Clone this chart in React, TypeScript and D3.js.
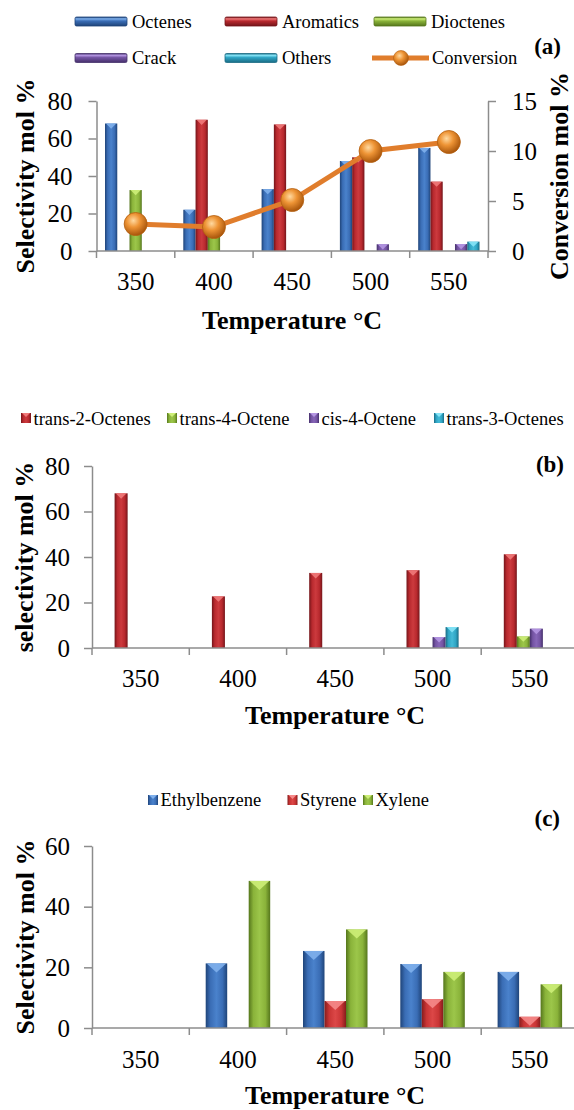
import React, { useEffect, useRef } from "react";
import * as d3 from "d3";

const temps = ["350", "400", "450", "500", "550"];

// panel (a) - selectivity (left axis) and conversion (right axis)
const seriesA = ["Octenes", "Aromatics", "Dioctenes", "Crack", "Others"];
const octenes = [68, 22, 33, 48, 55];
const aromatics = [0, 70, 67.5, 50, 37];
const dioctenes = [32.5, 9, 0, 0, 0];
const crack = [0, 0, 0, 3.6, 3.7];
const others = [0, 0, 0, 0, 5];
const conversion = [2.7, 2.4, 5.1, 10.0, 10.9];
const ticksALeft = [0, 20, 40, 60, 80];
const ticksARight = [0, 5, 10, 15];

// panel (b) - octene isomers
const seriesB = ["trans-2-Octenes", "trans-4-Octene", "cis-4-Octene", "trans-3-Octenes"];
const trans2 = [68, 22.7, 33, 34.2, 41.2];
const trans4 = [0, 0, 0, 0, 5.1];
const cis4 = [0, 0, 0, 4.8, 8.5];
const trans3 = [0, 0, 0, 9.2, 0];
const ticksB = [0, 20, 40, 60, 80];

// panel (c) - aromatics
const seriesC = ["Ethylbenzene", "Styrene", "Xylene"];
const ethylbenzene = [0, 21.3, 25.4, 21.1, 18.5];
const styrene = [0, 0, 8.9, 9.5, 3.7];
const xylene = [0, 48.5, 32.5, 18.5, 14.4];
const ticksC = [0, 20, 40, 60];

const palette: Record<string, { base: string; light: string; dark: string; hi: string }> = {
  blue: { base: "#3a6db5", light: "#4a82cc", dark: "#1f4479", hi: "#7fb0ec" },
  red: { base: "#b8292e", light: "#cc3a3e", dark: "#74151a", hi: "#f07a7a" },
  green: { base: "#8ab33a", light: "#9cc64a", dark: "#55761c", hi: "#cdee78" },
  purple: { base: "#7454a3", light: "#8766b8", dark: "#45306b", hi: "#b496e2" },
  cyan: { base: "#2fa5c4", light: "#44bbd8", dark: "#1a6b84", hi: "#86e4f7" },
  red2: { base: "#c93535", light: "#dc4747", dark: "#861c1c", hi: "#f58a8a" },
};

const serif = "Liberation Serif, Times New Roman, serif";
const axisGray = "#8c8c8c";

export default function App() {
  const svgRef = useRef<SVGSVGElement>(null);

  useEffect(() => {
    const svg = d3.select(svgRef.current);
    svg.selectAll("*").remove();
    const defs = svg.append("defs");

    Object.entries(palette).forEach(([k, c]) => {
      const h = defs.append("linearGradient").attr("id", `bar-${k}`)
        .attr("x1", 0).attr("x2", 1).attr("y1", 0).attr("y2", 0);
      [[0, c.dark], [0.22, c.base], [0.5, c.light], [0.78, c.base], [1, c.dark]].forEach(([o, col]) =>
        h.append("stop").attr("offset", o as number).attr("stop-color", col as string));
      const v = defs.append("linearGradient").attr("id", `leg-${k}`)
        .attr("x1", 0).attr("x2", 0).attr("y1", 0).attr("y2", 1);
      [[0, c.dark], [0.2, c.hi], [0.45, c.base], [1, c.dark]].forEach(([o, col]) =>
        v.append("stop").attr("offset", o as number).attr("stop-color", col as string));
    });
    const rg = defs.append("radialGradient").attr("id", "marker")
      .attr("cx", "40%").attr("cy", "35%").attr("r", "65%");
    rg.append("stop").attr("offset", 0).attr("stop-color", "#ffd9a0");
    rg.append("stop").attr("offset", 0.45).attr("stop-color", "#ee9435");
    rg.append("stop").attr("offset", 1).attr("stop-color", "#a9560c");

    const drawBars = (data: number[][], colors: string[], x: d3.ScaleBand<string>, y: d3.ScaleLinear<number, number>, gap: number) => {
      const inner = d3.scaleBand<number>().domain(d3.range(data.length)).range([gap, x.bandwidth() - gap]);
      const g = svg.append("g");
      data.forEach((vals, si) => {
        const c = palette[colors[si]];
        vals.forEach((v, ci) => {
          if (v <= 0) return;
          const w = inner.bandwidth();
          const bx = (x(temps[ci]) as number) + (inner(si) as number);
          const top = y(v);
          const base = y(0);
          g.append("rect").attr("x", bx).attr("y", top).attr("width", w).attr("height", base - top)
            .attr("fill", `url(#bar-${colors[si]})`);
          const th = Math.min(w * 0.42, base - top);
          g.append("path")
            .attr("d", `M${bx + 1},${top}L${bx + w - 1},${top}L${bx + w / 2},${top + th}Z`)
            .attr("fill", c.hi).attr("opacity", 0.9);
        });
      });
    };

    const styleAxis = (g: d3.Selection<SVGGElement, unknown, null, undefined>) => {
      g.attr("font-family", serif).attr("font-size", 25);
      g.select(".domain").attr("stroke", axisGray).attr("stroke-width", 1.5);
      g.selectAll(".tick line").attr("stroke", axisGray).attr("stroke-width", 1.5);
      g.selectAll(".tick text").attr("fill", "#000");
    };

    const drawXAxis = (x: d3.ScaleBand<string>, y0: number, labelY: number) => {
      const g = svg.append("g");
      const [x0, x1] = x.range();
      g.append("line").attr("x1", x0).attr("x2", x1).attr("y1", y0).attr("y2", y0)
        .attr("stroke", axisGray).attr("stroke-width", 1.5);
      g.selectAll("line.tk").data(d3.range(temps.length + 1)).join("line").attr("class", "tk")
        .attr("x1", (i) => x0 + i * x.step()).attr("x2", (i) => x0 + i * x.step())
        .attr("y1", y0).attr("y2", y0 + 7).attr("stroke", axisGray).attr("stroke-width", 1.5);
      g.selectAll("text").data(temps).join("text")
        .attr("x", (d) => (x(d) as number) + x.bandwidth() / 2).attr("y", labelY)
        .attr("text-anchor", "middle").attr("font-family", serif).attr("font-size", 25).text((d) => d);
    };

    const title = (txt: string, x: number, y: number, rotate = false) => {
      svg.append("text")
        .attr("transform", rotate ? `translate(${x},${y}) rotate(-90)` : `translate(${x},${y})`)
        .attr("text-anchor", "middle").attr("font-family", serif).attr("font-weight", "bold")
        .attr("font-size", 26).text(txt);
    };

    const label = (txt: string, x: number, y: number, size = 18.5, bold = false, anchor = "start") => {
      svg.append("text").attr("x", x).attr("y", y).attr("font-family", serif)
        .attr("font-size", size).attr("font-weight", bold ? "bold" : "normal")
        .attr("text-anchor", anchor).text(txt);
    };

    const squareIcon = (x: number, y: number, color: string) => {
      const c = palette[color];
      svg.append("rect").attr("x", x).attr("y", y).attr("width", 10).attr("height", 10)
        .attr("fill", `url(#bar-${color})`);
      svg.append("path").attr("d", `M${x + 1},${y}L${x + 9},${y}L${x + 5},${y + 4}Z`).attr("fill", c.hi);
    };

    // ---------- panel (a)
    const xA = d3.scaleBand<string>().domain(temps).range([96.5, 488]);
    const yA = d3.scaleLinear().domain([0, 80]).range([251, 101]);
    const yA2 = d3.scaleLinear().domain([0, 15]).range([251, 101]);
    const colorsA = ["blue", "red", "green", "purple", "cyan"];
    drawBars([octenes, aromatics, dioctenes, crack, others], colorsA, xA, yA, 8.5);

    const line = d3.line<number>()
      .x((_, i) => (xA(temps[i]) as number) + xA.bandwidth() / 2)
      .y((d) => yA2(d));
    svg.append("path").datum(conversion).attr("d", line).attr("fill", "none")
      .attr("stroke", "#e07d2c").attr("stroke-width", 5);
    svg.selectAll("circle.conv").data(conversion).join("circle").attr("class", "conv")
      .attr("cx", (_, i) => (xA(temps[i]) as number) + xA.bandwidth() / 2)
      .attr("cy", (d) => yA2(d)).attr("r", 11.5)
      .attr("fill", "url(#marker)").attr("stroke", "#b5600f").attr("stroke-width", 0.8);

    const gA = svg.append("g").attr("transform", "translate(96.5,0)")
      .call(d3.axisLeft(yA).tickValues(ticksALeft).tickSize(8).tickSizeOuter(0).tickPadding(16));
    styleAxis(gA);
    const gA2 = svg.append("g").attr("transform", "translate(488,0)")
      .call(d3.axisRight(yA2).tickValues(ticksARight).tickSize(8).tickSizeOuter(0).tickPadding(16));
    styleAxis(gA2);
    drawXAxis(xA, 251, 290);
    title("Temperature °C", 292, 329);
    title("Selectivity mol %", 34, 176, true);
    title("Conversion mol %", 568, 176, true);

    // legend (a)
    const legA = [
      { name: seriesA[0], color: "blue", x: 75, row: 0 },
      { name: seriesA[1], color: "red", x: 225, row: 0 },
      { name: seriesA[2], color: "green", x: 374, row: 0 },
      { name: seriesA[3], color: "purple", x: 75, row: 1 },
      { name: seriesA[4], color: "cyan", x: 225, row: 1 },
    ];
    legA.forEach((d) => {
      const cy = d.row === 0 ? 21.5 : 58;
      svg.append("rect").attr("x", d.x).attr("y", cy - 4.5).attr("width", 52).attr("height", 9)
        .attr("rx", 1.5).attr("fill", `url(#leg-${d.color})`)
        .attr("stroke", palette[d.color].dark).attr("stroke-width", 0.8);
      label(d.name, d.x + 57, d.row === 0 ? 27.5 : 64);
    });
    svg.append("line").attr("x1", 372).attr("x2", 429).attr("y1", 58).attr("y2", 58)
      .attr("stroke", "#e07d2c").attr("stroke-width", 5);
    svg.append("circle").attr("cx", 401).attr("cy", 58).attr("r", 7.5)
      .attr("fill", "url(#marker)").attr("stroke", "#b5600f").attr("stroke-width", 0.6);
    label("Conversion", 432, 64);
    label("(a)", 561, 54, 23, true, "end");

    // ---------- panel (b)
    const xB = d3.scaleBand<string>().domain(temps).range([92, 578.5]);
    const yB = d3.scaleLinear().domain([0, 80]).range([648, 466]);
    drawBars([trans2, trans4, cis4, trans3], ["red", "green", "purple", "cyan"], xB, yB, 22.6);
    const gB = svg.append("g").attr("transform", "translate(92,0)")
      .call(d3.axisLeft(yB).tickValues(ticksB).tickSize(8).tickSizeOuter(0).tickPadding(14));
    styleAxis(gB);
    drawXAxis(xB, 648, 687);
    title("Temperature °C", 335, 724);
    title("selectivity mol %", 33, 557, true);
    const legB = [
      { name: seriesB[0], color: "red", x: 21 },
      { name: seriesB[1], color: "green", x: 167 },
      { name: seriesB[2], color: "purple", x: 309 },
      { name: seriesB[3], color: "cyan", x: 434 },
    ];
    legB.forEach((d) => {
      squareIcon(d.x, 413, d.color);
      label(d.name, d.x + 12.5, 425);
    });
    label("(b)", 564, 472, 23, true, "end");

    // ---------- panel (c)
    const xC = d3.scaleBand<string>().domain(temps).range([92, 578.5]);
    const yC = d3.scaleLinear().domain([0, 60]).range([1028, 846]);
    drawBars([ethylbenzene, styrene, xylene], ["blue", "red2", "green"], xC, yC, 16.4);
    const gC = svg.append("g").attr("transform", "translate(92,0)")
      .call(d3.axisLeft(yC).tickValues(ticksC).tickSize(8).tickSizeOuter(0).tickPadding(14));
    styleAxis(gC);
    drawXAxis(xC, 1028, 1068);
    title("Temperature °C", 335, 1104);
    title("Selectivity mol %", 34, 937, true);
    const legC = [
      { name: seriesC[0], color: "blue", x: 148 },
      { name: seriesC[1], color: "red2", x: 287.5 },
      { name: seriesC[2], color: "green", x: 363 },
    ];
    legC.forEach((d) => {
      squareIcon(d.x, 795, d.color);
      label(d.name, d.x + 12.5, 806);
    });
    label("(c)", 560, 826, 23, true, "end");
  }, []);

  return (
    <div style={{ position: "absolute", left: 0, top: 0 }}>
      <svg ref={svgRef} width={574} height={1110} style={{ display: "block", background: "#fff" }} />
    </div>
  );
}
